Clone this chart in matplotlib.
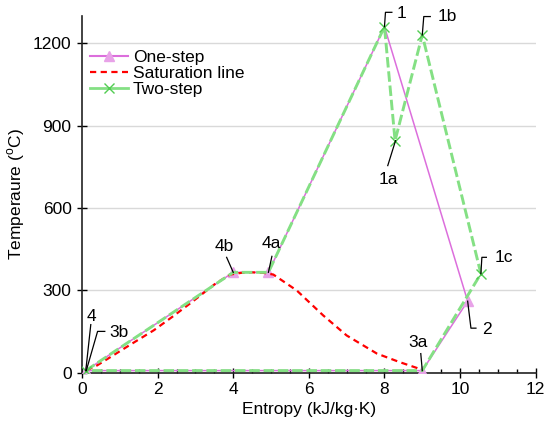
import numpy as np
import matplotlib
matplotlib.use("Agg")
import matplotlib.pyplot as plt
from matplotlib.lines import Line2D

plt.rcParams['font.family'] = ['Liberation Sans', 'DejaVu Sans']
plt.rcParams['mathtext.fontset'] = 'custom'
plt.rcParams['mathtext.rm'] = 'Liberation Sans'
FS = 12.5

# one-step cycle: 4, 4b, 4a, 1, 2, 3a, back to 4
one_s = [0.1, 4.0, 4.93, 8.0, 10.2, 9.0, 0.1]
one_T = [7, 365, 365, 1260, 260, 7, 7]

# two-step cycle: 3b, 4b, 4a, 1, 1a, 1b, 1c, 3a, back to 3b
two_s = [0.1, 4.0, 4.93, 8.0, 8.28, 9.0, 10.55, 9.0, 0.1]
two_T = [7, 365, 365, 1260, 845, 1230, 360, 7, 7]

# saturation dome
sat_s = [0.12, 0.4, 1.32, 1.9, 2.38, 2.91, 3.53, 3.92, 4.2, 4.5, 4.8, 5.06, 5.68,
         6.38, 7.0, 7.8, 8.4, 8.85, 9.0]
sat_T = [8, 26, 105, 154, 202, 257, 324, 357, 363, 365, 363, 357, 299,
         208, 135, 69, 38, 17, 8]

# state labels: (text, series, index, leader offsets px, text offset px, ha)
labels = [
    ("1",  "one", 3, [(0, 0), (1, -14.4), (7.4, -14.4)], (12.4, -13.7), "left"),
    ("1b", "two", 5, [(0, 0), (1.5, -18.4), (8, -18.4)], (15, -18.4), "left"),
    ("1a", "two", 4, [(0.5, 0), (-7.3, 25)], (-6.7, 39.3), "center"),
    ("1c", "two", 6, [(0, 0), (1, -16.4), (5.5, -16.4)], (14, -16.4), "left"),
    ("2",  "one", 4, [(0, 0), (3.3, 27), (8.3, 27)], (14.7, 28), "left"),
    ("3a", "one", 5, [(0, 0), (-1.5, -17)], (-4, -28.4), "center"),
    ("4b", "one", 1, [(0, 0), (-6.6, -15)], (-9, -25.7), "center"),
    ("4a", "one", 2, [(0, 0), (3.5, -16)], (3.3, -28.4), "center"),
    ("4",  "one", 0, [(0, 0), (5, -46)], (6, -54), "center"),
    ("3b", "two", 0, [(0.5, 0), (11.8, -39.2), (19, -39.2)], (23.5, -38.4), "left"),
]

pink = '#DC6EDC'
pink_mk = '#E8A2E8'
green = '#84E084'
green_mk = '#52CC52'
red = '#FF0000'

fig = plt.figure(figsize=(5.5, 4.36), dpi=100)
ax = fig.add_axes([0.1491, 0.1456, 0.8249, 0.8183])

ax.plot(one_s, one_T, '-', color=pink, lw=1.1, marker='^', ms=6.5,
        mfc=pink_mk, mec=pink_mk, markevery=[0, 1, 2, 4, 5], zorder=3)
ax.plot(sat_s, sat_T, color=red, lw=1.6, dashes=(2.8, 2.0), zorder=4)
ax.plot(two_s, two_T, color=green, lw=2.1, dashes=(3.6, 1.3), zorder=5)
ax.plot(two_s, two_T, ls='none', marker='x', ms=6.5, mew=1.0, color=green_mk,
        markevery=[0, 3, 4, 5, 6], zorder=6)

ax.set_xlim(0, 12)
ax.set_ylim(0, 1300)
ax.set_xticks(np.arange(0, 13, 2))
ax.set_xticks(np.arange(0, 12.01, 0.5), minor=True)
ax.set_yticks(np.arange(0, 1201, 300))
ax.tick_params(axis='both', which='major', direction='inout', length=7, width=1,
               labelsize=FS, colors='black')
ax.tick_params(axis='x', which='major', pad=3)
ax.tick_params(axis='y', which='major', pad=4)
ax.tick_params(axis='x', which='minor', direction='in', length=3, width=1)
ax.yaxis.grid(True, color='#D9D9D9', lw=1)
ax.set_axisbelow(True)
for sp in ['top', 'right']:
    ax.spines[sp].set_visible(False)
for sp in ['left', 'bottom']:
    ax.spines[sp].set_linewidth(1.2)
    ax.spines[sp].set_color('#222222')

ax.set_xlabel('Entropy (kJ/kg·K)', fontsize=FS, labelpad=4)
ax.set_ylabel(r'Temperaure ($^{\mathrm{o}}$C)', fontsize=FS, labelpad=4)

handles = [
    Line2D([], [], color=pink, lw=1.5, marker='^', ms=6.5, mfc=pink_mk, mec=pink_mk),
    Line2D([], [], color=red, lw=1.6, dashes=(2.8, 2.0)),
    Line2D([], [], color=green, lw=2.0, marker='x', ms=6.5, mew=1.0, mec=green_mk),
]
ax.legend(handles, ['One-step', 'Saturation line', 'Two-step'], loc='upper left',
          bbox_to_anchor=(0.017, 0.905), frameon=False, fontsize=FS,
          handlelength=2.2, handletextpad=0.3, labelspacing=0.05,
          borderpad=0, borderaxespad=0)

series = {"one": (one_s, one_T), "two": (two_s, two_T)}
inv = ax.transData.inverted()
for text, key, idx, leader, toff, ha in labels:
    s, T = series[key][0][idx], series[key][1][idx]
    px, py = ax.transData.transform((s, T))
    pts = inv.transform([(px + dx, py - dy) for dx, dy in leader])
    ax.plot(pts[:, 0], pts[:, 1], color='black', lw=0.9, zorder=7, clip_on=False)
    ax.annotate(text, xy=(s, T), xytext=(toff[0] * 0.72, -toff[1] * 0.72),
                textcoords='offset points', ha=ha, va='center', fontsize=FS,
                zorder=8)

fig.savefig('out.png', dpi=100)
